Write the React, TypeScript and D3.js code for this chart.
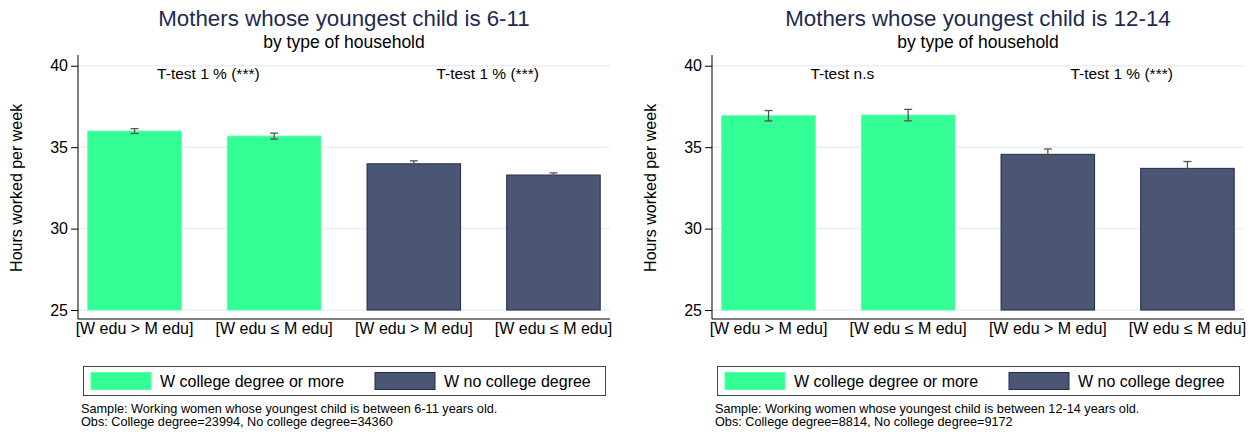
import { useRef, useEffect } from 'react';
import * as d3 from 'd3';

const categories = ['[W edu > M edu]', '[W edu ≤ M edu]', '[W edu > M edu]', '[W edu ≤ M edu]'];
const barGroups = ['college', 'college', 'nocollege', 'nocollege'];
const legendLabels = ['W college degree or more', 'W no college degree'];
const yTicks = [25, 30, 35, 40];

const means6to11 = [35.99, 35.68, 33.98, 33.29];
const ci6to11 = [0.15, 0.18, 0.18, 0.13];
const ttests6to11 = ['T-test 1 % (***)', 'T-test 1 % (***)'];

const means12to14 = [36.93, 36.97, 34.56, 33.7];
const ci12to14 = [0.32, 0.35, 0.33, 0.42];
const ttests12to14 = ['T-test n.s', 'T-test 1 % (***)'];

const FONT = '"Liberation Sans", Arial, Helvetica, sans-serif';
const colors: Record<string, { fill: string; stroke: string }> = {
  college: { fill: '#33fe96', stroke: '#5cffaa' },
  nocollege: { fill: '#4b5675', stroke: '#1f2c4f' },
};

interface PanelProps {
  offsetX: number;
  title: string;
  means: number[];
  cis: number[];
  ttests: string[];
  notes: string[];
}

function Panel({ offsetX, title, means, cis, ttests, notes }: PanelProps): JSX.Element {
  const gRef = useRef<SVGGElement | null>(null);

  useEffect(() => {
    if (!gRef.current) return;
    const g = d3.select(gRef.current);
    g.selectAll('*').remove();

    const left = 78;
    const right = 610;
    const bottom = 319;
    const top = 55;

    const x = d3.scaleBand<number>()
      .domain(d3.range(categories.length))
      .range([left, right])
      .paddingInner(0.33)
      .paddingOuter(0.07);

    const y = d3.scaleLinear()
      .domain([24.45, 40.66])
      .range([bottom, top]);

    // titles
    g.append('text')
      .attr('x', (left + right) / 2)
      .attr('y', 26)
      .attr('text-anchor', 'middle')
      .attr('font-size', 22.3)
      .attr('fill', '#1c2b52')
      .text(title);
    g.append('text')
      .attr('x', (left + right) / 2)
      .attr('y', 47.5)
      .attr('text-anchor', 'middle')
      .attr('font-size', 17.5)
      .attr('fill', '#000')
      .text('by type of household');

    // gridlines
    g.append('g')
      .selectAll('line')
      .data(yTicks)
      .join('line')
      .attr('x1', left)
      .attr('x2', right)
      .attr('y1', d => y(d))
      .attr('y2', d => y(d))
      .attr('stroke', '#e9eff4')
      .attr('stroke-width', 1.5);

    // bars
    g.append('g')
      .selectAll('rect')
      .data(means)
      .join('rect')
      .attr('x', (_, i) => x(i) ?? 0)
      .attr('width', x.bandwidth())
      .attr('y', d => y(d))
      .attr('height', d => y(25) - y(d))
      .attr('fill', (_, i) => colors[barGroups[i]].fill)
      .attr('stroke', (_, i) => colors[barGroups[i]].stroke)
      .attr('stroke-width', 1);

    // error bars
    const eb = g.append('g').attr('stroke', '#555').attr('stroke-width', 1.3);
    means.forEach((m, i) => {
      const cx = (x(i) ?? 0) + x.bandwidth() / 2;
      eb.append('line').attr('x1', cx).attr('x2', cx).attr('y1', y(m - cis[i])).attr('y2', y(m + cis[i]));
      eb.append('line').attr('x1', cx - 4).attr('x2', cx + 4).attr('y1', y(m - cis[i])).attr('y2', y(m - cis[i]));
      eb.append('line').attr('x1', cx - 4).attr('x2', cx + 4).attr('y1', y(m + cis[i])).attr('y2', y(m + cis[i]));
    });

    // t-test labels
    g.append('g')
      .selectAll('text')
      .data(ttests)
      .join('text')
      .attr('x', (_, k) => ((x(2 * k) ?? 0) + (x(2 * k + 1) ?? 0) + x.bandwidth()) / 2 + 4)
      .attr('y', y(40) + 13)
      .attr('text-anchor', 'middle')
      .attr('font-size', 15.5)
      .text(d => d);

    // y axis
    const yAxis = g.append('g')
      .attr('transform', `translate(${left},0)`)
      .call(d3.axisLeft(y).tickValues(yTicks).tickSize(7).tickPadding(3).tickSizeOuter(0));
    yAxis.select('.domain').attr('stroke', '#000').attr('d', `M0,${top}V${bottom}`);
    yAxis.selectAll('.tick line').attr('stroke', '#000');
    yAxis.selectAll('.tick text').attr('font-size', 16).attr('font-family', FONT).attr('fill', '#000');

    // x axis
    const xAxis = g.append('g')
      .attr('transform', `translate(0,${bottom})`)
      .call(d3.axisBottom(x).tickSize(0).tickPadding(4).tickFormat(i => categories[i]));
    xAxis.select('.domain').attr('stroke', '#000').attr('d', `M${left},0H${right}`);
    xAxis.selectAll('.tick text').attr('font-size', 16).attr('font-family', FONT).attr('fill', '#000');

    // y label
    g.append('text')
      .attr('transform', `translate(22,${(y(25) + y(40)) / 2}) rotate(-90)`)
      .attr('text-anchor', 'middle')
      .attr('font-size', 16)
      .text('Hours worked per week');

    // legend
    const lg = g.append('g');
    lg.append('rect')
      .attr('x', 83.5)
      .attr('y', 366.5)
      .attr('width', 522)
      .attr('height', 29)
      .attr('fill', '#fff')
      .attr('stroke', '#444')
      .attr('stroke-width', 1);
    const legendX = [91, 375];
    ['college', 'nocollege'].forEach((k, i) => {
      lg.append('rect')
        .attr('x', legendX[i])
        .attr('y', 372.5)
        .attr('width', 60)
        .attr('height', 17)
        .attr('fill', colors[k].fill)
        .attr('stroke', colors[k].stroke);
      lg.append('text')
        .attr('x', legendX[i] + 69)
        .attr('y', 387)
        .attr('font-size', 16)
        .text(legendLabels[i]);
    });

    // notes
    g.append('g')
      .selectAll('text')
      .data(notes)
      .join('text')
      .attr('x', 81)
      .attr('y', (_, i) => 413 + i * 13)
      .attr('font-size', 12.7)
      .text(d => d);
  }, [offsetX, title, means, cis, ttests, notes]);

  return <g ref={gRef} transform={`translate(${offsetX},0)`} fontFamily={FONT} />;
}

export default function App(): JSX.Element {
  return (
    <div style={{ position: 'absolute', left: 0, top: 0 }}>
      <svg width={1255} height={434} style={{ display: 'block', background: '#fff' }}>
        <Panel
          offsetX={0}
          title="Mothers whose youngest child is 6-11"
          means={means6to11}
          cis={ci6to11}
          ttests={ttests6to11}
          notes={[
            'Sample: Working women whose youngest child is between 6-11 years old.',
            'Obs: College degree=23994, No college degree=34360',
          ]}
        />
        <Panel
          offsetX={634}
          title="Mothers whose youngest child is 12-14"
          means={means12to14}
          cis={ci12to14}
          ttests={ttests12to14}
          notes={[
            'Sample: Working women whose youngest child is between 12-14 years old.',
            'Obs: College degree=8814, No college degree=9172',
          ]}
        />
      </svg>
    </div>
  );
}
